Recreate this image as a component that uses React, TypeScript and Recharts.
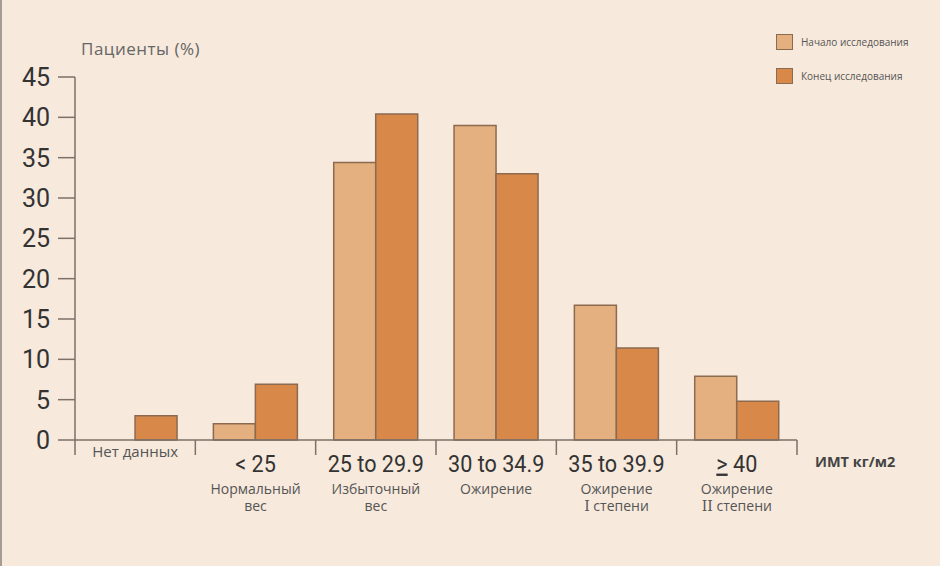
import { BarChart, Bar, XAxis, YAxis, Legend } from "recharts";

const categories = ["Нет данных", "< 25", "25 to 29.9", "30 to 34.9", "35 to 39.9", "≥ 40"];
const subLabels = [[], ["Нормальный", "вес"], ["Избыточный", "вес"], ["Ожирение"], ["Ожирение", "I степени"], ["Ожирение", "II степени"]];
const startValues = [null, 2, 34.4, 39, 16.7, 7.9];
const endValues = [3, 6.9, 40.4, 33, 11.4, 4.8];
const yTicks = [0, 5, 10, 15, 20, 25, 30, 35, 40, 45];
const seriesNames = ["Начало исследования", "Конец исследования"];
const seriesColors = ["#e4b07f", "#d8894a"];

const COND = "Roboto, 'Liberation Sans', sans-serif";
const SANS = "'Open Sans', 'Noto Sans', sans-serif";
const SERIF = "'DejaVu Serif', 'Liberation Serif', serif";
const AXIS = "#7d7168";
const BAR_STROKE = "#8c6a50";

const data = categories.map((c, i) => ({
  name: c,
  start: startValues[i],
  end: endValues[i],
}));

// one <text> per category caption, lines as tspans
function SubLines({ x, y, lines }: { x: number; y: number; lines: string[] }) {
  if (!lines.length) return null;
  return (
    <text x={x} y={y} textAnchor="middle" fontSize={14} fontFamily={SANS} fill="#555">
      {lines.map((l, i) => {
        const m = l.match(/^(I+)( .*)$/);
        return (
          <tspan key={i} x={x} dy={i === 0 ? 0 : 17}>
            {m ? (
              <>
                <tspan fontFamily={SERIF}>{m[1]}</tspan>
                {m[2]}
              </>
            ) : (
              l
            )}
          </tspan>
        );
      })}
    </text>
  );
}

function ValueTick(props: any) {
  const { x, y, payload } = props;
  return (
    <text x={x} y={y} textAnchor="end" dy="0.355em" fontSize={25} fontFamily={COND} fill="#333">
      {payload.value}
    </text>
  );
}

function CategoryTick(props: any) {
  const { x, y, payload, index } = props;
  const half = payload.offset || 0;
  const value: string = payload.value;
  const last = index === categories.length - 1;
  return (
    <g>
      <line x1={x - half} x2={x - half} y1={y} y2={y + 15} stroke={AXIS} strokeWidth={1.5} />
      {last && <line x1={x + half} x2={x + half} y1={y} y2={y + 15} stroke={AXIS} strokeWidth={1.5} />}
      {index === 0 ? (
        <text x={x} y={y + 17} textAnchor="middle" fontSize={15} fontFamily={SANS} fill="#555">
          {value}
        </text>
      ) : (
        <text
          transform={`translate(${x},${y + 31.5}) scale(0.92,1)`}
          textAnchor="middle"
          fontSize={23.5}
          fontFamily={COND}
          fill="#333"
        >
          {value.startsWith("≥") ? (
            <>
              <tspan textDecoration="underline">&gt;</tspan>
              <tspan>{value.slice(1)}</tspan>
            </>
          ) : (
            value
          )}
        </text>
      )}
      <SubLines x={x} y={y + 54} lines={subLabels[index] || []} />
    </g>
  );
}

function LegendBox() {
  return (
    <div>
      {seriesNames.map((n, i) => (
        <div key={n} style={{ display: "flex", alignItems: "center", height: 15, marginBottom: 19 }}>
          <div
            style={{
              width: 15,
              height: 14,
              background: seriesColors[i],
              border: `1px solid ${BAR_STROKE}`,
              marginRight: 8,
            }}
          />
          <span style={{ fontFamily: SANS, fontSize: 10, color: "#555" }}>{n}</span>
        </div>
      ))}
    </div>
  );
}

export default function App() {
  return (
    <div style={{ position: "absolute", left: 0, top: 0, width: 940, height: 566, background: "#f7e9dc" }}>
      <div style={{ position: "absolute", left: 0, top: 0, width: 2, height: 566, background: "#a59d95" }} />
      <BarChart
        width={940}
        height={566}
        data={data}
        margin={{ top: 77, right: 143, left: 0, bottom: 0 }}
        barCategoryGap="15%"
        barGap={0}
      >
        <XAxis
          dataKey="name"
          height={126}
          axisLine={{ stroke: AXIS, strokeWidth: 1.5 }}
          tickLine={false}
          tickSize={0}
          tickMargin={0}
          interval={0}
          tick={<CategoryTick />}
          label={{
            content: (p: any) => {
              const vb = p.viewBox;
              return (
                <text
                  x={vb.x + vb.width + 18}
                  y={vb.y + 27}
                  fontSize={14.5}
                  fontWeight="bold"
                  fontFamily={SANS}
                  fill="#444"
                >
                  ИМТ кг/м2
                </text>
              );
            },
          }}
        />
        <YAxis
          width={75}
          domain={[0, 45]}
          ticks={yTicks}
          axisLine={{ stroke: AXIS, strokeWidth: 1.5 }}
          tickLine={{ stroke: AXIS, strokeWidth: 1.5 }}
          tickSize={17}
          tickMargin={8}
          tick={<ValueTick />}
          label={{
            content: (p: any) => {
              const vb = p.viewBox;
              return (
                <text
                  x={vb.x + vb.width + 6}
                  y={vb.y - 22}
                  fontSize={17}
                  letterSpacing={0.5}
                  fontFamily={SANS}
                  fill="#666"
                >
                  Пациенты (%)
                </text>
              );
            },
          }}
        />
        <Legend
          layout="vertical"
          align="center"
          verticalAlign="middle"
          wrapperStyle={{ position: "absolute", top: 34, left: 776, width: 160 }}
          content={<LegendBox />}
        />
        <Bar dataKey="start" name={seriesNames[0]} fill={seriesColors[0]} stroke={BAR_STROKE} strokeWidth={1.5} isAnimationActive={false} />
        <Bar dataKey="end" name={seriesNames[1]} fill={seriesColors[1]} stroke={BAR_STROKE} strokeWidth={1.5} isAnimationActive={false} />
      </BarChart>
    </div>
  );
}
